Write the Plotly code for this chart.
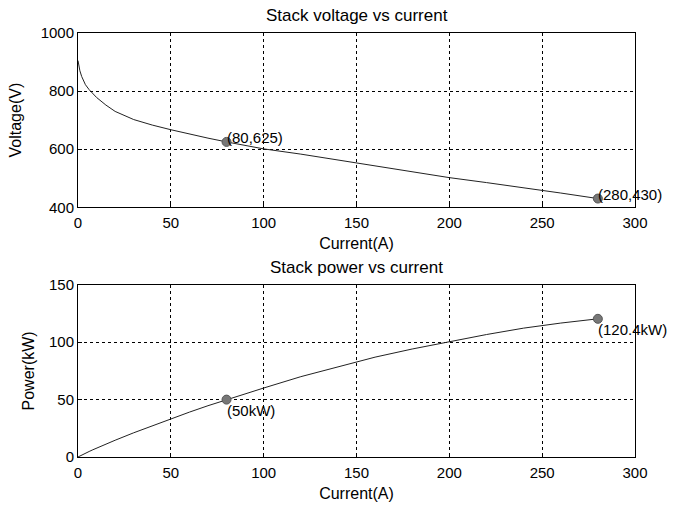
import plotly.graph_objects as go

current = [0, 1, 2, 3, 4, 6, 8, 10, 15, 20, 30, 40, 50, 60, 70, 80, 90, 100,
           120, 140, 160, 180, 200, 220, 240, 260, 280]
voltage = [905, 870, 850, 835, 822, 805, 790, 778, 752, 730, 702, 683, 667,
           652, 638, 625, 612, 601, 583, 563, 544, 523, 502, 485, 468, 449, 430]
power = [0, 0.9, 1.7, 2.5, 3.3, 4.8, 6.3, 7.8, 11.3, 14.6, 21.1, 27.3, 33.4,
         39.1, 44.7, 50.0, 55.1, 60.1, 70.0, 78.8, 87.0, 94.1, 100.4, 106.7,
         112.3, 116.7, 120.4]

v_marks_x = [80, 280]
v_marks_y = [625, 430]
v_labels = ["(80,625)", "(280,430)"]
p_marks_x = [80, 280]
p_marks_y = [50, 120.4]
p_labels = ["(50kW)", "(120.4kW)"]

FONT = "Liberation Sans, Arial, sans-serif"
fig = go.Figure()
fig.add_trace(go.Scatter(x=current, y=voltage, mode="lines",
                         line=dict(color="#222", width=1), xaxis="x", yaxis="y",
                         showlegend=False))
fig.add_trace(go.Scatter(x=v_marks_x, y=v_marks_y, mode="markers",
                         marker=dict(color="#777", size=9, line=dict(color="#555", width=1)),
                         xaxis="x", yaxis="y", showlegend=False))
fig.add_trace(go.Scatter(x=current, y=power, mode="lines",
                         line=dict(color="#222", width=1), xaxis="x2", yaxis="y2",
                         showlegend=False))
fig.add_trace(go.Scatter(x=p_marks_x, y=p_marks_y, mode="markers",
                         marker=dict(color="#777", size=9, line=dict(color="#555", width=1)),
                         xaxis="x2", yaxis="y2", showlegend=False))

axis_common = dict(showline=True, mirror=True, linecolor="black", linewidth=1,
                   showgrid=True, gridcolor="black", griddash="dot", gridwidth=1,
                   ticks="inside", ticklen=4, tickcolor="black", zeroline=False,
                   automargin=False,
                   tickfont=dict(size=15, color="black", family=FONT))
xtick_extra = dict(ticklabelstandoff=2)

fig.update_layout(
    width=677, height=507,
    margin=dict(l=78, r=42, t=33, b=50),
    plot_bgcolor="white", paper_bgcolor="white",
    font=dict(family=FONT, size=15, color="black"),
    xaxis=dict(domain=[0, 1], range=[0, 300], dtick=50, anchor="y",
               title=dict(text="Current(A)", standoff=7, font=dict(size=16)),
               **xtick_extra, **axis_common),
    yaxis=dict(domain=[0.589, 1], range=[400, 1000], dtick=200, anchor="x",
               title=dict(text="Voltage(V)", standoff=15, font=dict(size=16)), **axis_common),
    xaxis2=dict(domain=[0, 1], range=[0, 300], dtick=50, anchor="y2",
                title=dict(text="Current(A)", standoff=7, font=dict(size=16)),
                **xtick_extra, **axis_common),
    yaxis2=dict(domain=[0, 0.406], range=[0, 150], dtick=50, anchor="x2",
                title=dict(text="Power(kW)", standoff=10, font=dict(size=16)), **axis_common),
)

annotations = [
    dict(text="Stack voltage vs current", x=0.5, y=1, xref="paper", yref="paper",
         xanchor="center", yanchor="bottom", yshift=6, showarrow=False, font=dict(size=17)),
    dict(text="Stack power vs current", x=0.5, y=0.406, xref="paper", yref="paper",
         xanchor="center", yanchor="bottom", yshift=6, showarrow=False, font=dict(size=17)),
]
for x, y, t in zip(v_marks_x, v_marks_y, v_labels):
    annotations.append(dict(text=t, x=x, y=y, xref="x", yref="y", xanchor="left",
                            yanchor="bottom", xshift=-2, yshift=-6, showarrow=False,
                            font=dict(size=15)))
for x, y, t in zip(p_marks_x, p_marks_y, p_labels):
    annotations.append(dict(text=t, x=x, y=y, xref="x2", yref="y2", xanchor="left",
                            yanchor="top", xshift=-2, yshift=0, showarrow=False,
                            font=dict(size=15)))
fig.update_layout(annotations=annotations)

fig.write_html("out.html", config={"displayModeBar": False},
               post_script="document.body.style.margin='0';document.body.style.overflow='hidden';")
